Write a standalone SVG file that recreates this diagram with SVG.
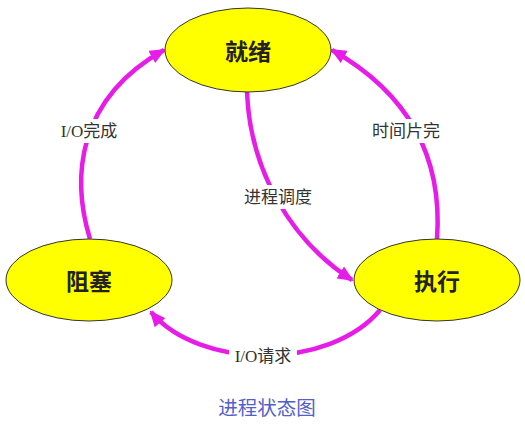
<svg xmlns="http://www.w3.org/2000/svg" width="525" height="432" viewBox="0 0 525 432">
<style>
.node ellipse{fill:#ffff00;stroke:#333;stroke-width:1}
.node text{font-family:"Noto Sans CJK SC",sans-serif;font-size:23px;font-weight:bold;fill:#222;text-anchor:middle;dominant-baseline:central}
.edge{fill:none;stroke:#e81ce8;stroke-width:4.5;marker-end:url(#ah)}
.lbl{font-family:"Liberation Serif","Noto Sans CJK SC",serif;font-size:17px;fill:#333;text-anchor:middle;dominant-baseline:central}
.bg{fill:#fff}
</style>
<defs>
<marker id="ah" markerUnits="userSpaceOnUse" markerWidth="16" markerHeight="14" refX="14" refY="7" orient="auto">
<path d="M0,0 L16,7 L0,14 z" fill="#e81ce8"/>
</marker>
</defs>
<rect width="525" height="432" fill="#fff"/>
<g id="connectors">
<path class="edge" d="M90,239 C72,180 75,100 164,50"/>
<path class="edge" d="M437,239 C442,170 420,100 332,50"/>
<path class="edge" d="M247,92 C250,170 290,240 352,280"/>
<path class="edge" d="M380,310 C330,370 200,370 151,312"/>
<rect class="bg" x="54" y="119" width="70" height="24"/>
<text class="lbl" x="89" y="131">I/O完成</text>
<rect class="bg" x="364" y="119" width="84" height="24"/>
<text class="lbl" x="406" y="131">时间片完</text>
<rect class="bg" x="236" y="185" width="84" height="24"/>
<text class="lbl" x="278" y="197">进程调度</text>
<rect class="bg" x="229" y="344" width="68" height="24"/>
<text class="lbl" x="263" y="356">I/O请求</text>
</g>
<g id="ready" class="node">
<ellipse cx="248" cy="50" rx="83" ry="42"/>
<text x="248" y="50">就绪</text>
</g>
<g id="blocked" class="node">
<ellipse cx="89" cy="280" rx="83" ry="41"/>
<text x="89" y="280">阻塞</text>
</g>
<g id="running" class="node">
<ellipse cx="437" cy="280" rx="83" ry="41"/>
<text x="437" y="280">执行</text>
</g>
<text x="267" y="406" style="font-family:'Noto Sans CJK SC',sans-serif;font-size:19.5px;fill:#5060cc;text-anchor:middle;dominant-baseline:central">进程状态图</text>
</svg>
